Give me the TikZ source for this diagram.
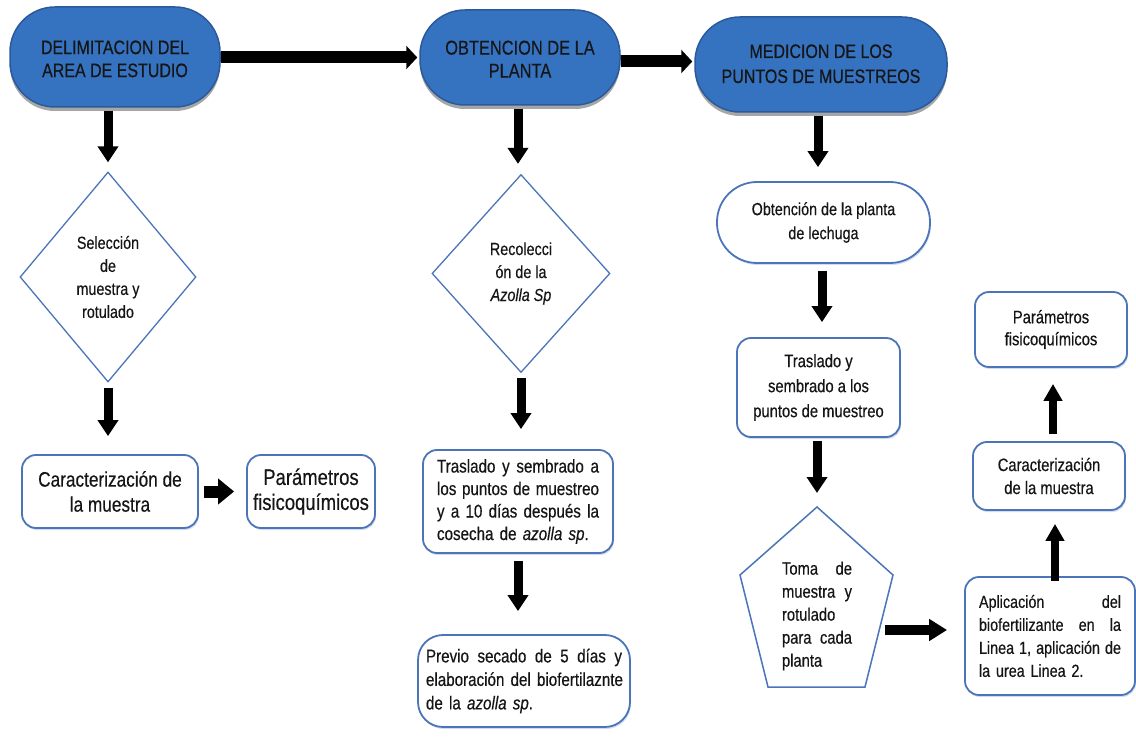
\documentclass[tikz,border=0pt]{standalone}
\usepackage{fontspec}
\setmainfont[FakeStretch=0.82,FakeBold=0.4]{Liberation Sans}
\usetikzlibrary{arrows.meta,shapes.geometric,shadows}
\definecolor{bluefill}{HTML}{3572C0}
\definecolor{blueedge}{HTML}{2A5A9C}
\definecolor{boxedge}{HTML}{4C74B9}
\definecolor{txt}{HTML}{151515}
\newcommand{\fsz}[2]{\fontsize{#1pt}{#2pt}\selectfont}
\newcommand{\jl}[2]{\leavevmode\hbox to #1pt{#2}}
\newcommand{\lowtxt}[2]{\raisebox{-#1pt}[\height][\depth]{\begin{tabular}{@{}c@{}}#2\end{tabular}}}
\begin{document}
\begin{tikzpicture}[x=1pt,y=-1pt,
  pill/.style={draw=blueedge, line width=1.5pt, fill=bluefill, rounded corners=45pt,
    align=center, text=txt, inner sep=0pt, font=\fsz{19.5}{23},
    drop shadow={shadow xshift=0pt, shadow yshift=-4pt, opacity=0.35, fill=black}},
  wbox/.style={draw=boxedge, line width=1.8pt, fill=white, rounded corners=14pt,
    align=center, text=txt, inner sep=0pt,
    drop shadow={shadow xshift=1pt, shadow yshift=-2pt, opacity=0.25, fill=boxedge}},
  dia/.style={diamond, draw=boxedge, line width=1.3pt, fill=white, inner sep=0pt,
    align=center, text=txt, font=\fsz{17.5}{23}},
  varr/.style={line width=9pt, -{Triangle[length=16pt,width=20pt]}},
  varrs/.style={line width=8pt, -{Triangle[length=17pt,width=18pt]}},
  harr/.style={line width=12pt, -{Triangle[length=11pt,width=23pt]}},
  harrm/.style={line width=12pt, -{Triangle[length=16pt,width=25pt]}},
  harrs/.style={line width=10pt, -{Triangle[length=18pt,width=21pt]}}]
\useasboundingbox (0,0) rectangle (1136,738);

% top row
\node[pill, minimum width=210pt, minimum height=100pt] (n1) at (115,57) {\lowtxt{4}{DELIMITACION DEL\\AREA DE ESTUDIO}};
\node[pill, minimum width=200pt, minimum height=95pt, font=\fsz{20}{23}] (n2) at (520,57.5) {\lowtxt{4}{OBTENCION DE LA\\PLANTA}};
\node[pill, minimum width=252pt, minimum height=95pt, font=\fsz{19.5}{25}] (n3) at (821,64.5) {\lowtxt{1}{MEDICION DE LOS\\PUNTOS DE MUESTREOS}};

% column 1
\node[dia, minimum width=176pt, minimum height=210pt] (d1) at (108,277) {Selección\\de\\muestra y\\rotulado};
\node[wbox, minimum width=176pt, minimum height=73pt, font=\fsz{21}{25}] (c1) at (110,491.5) {Caracterización de\\la muestra};
\node[wbox, minimum width=128pt, minimum height=73pt, font=\fsz{22.5}{25}] (p1) at (311,491.5) {Parámetros\\fisicoquímicos};

% column 2
\node[dia, minimum width=178pt, minimum height=198pt] (d2) at (521,273.5) {Recolecci\\ón de la\\\textit{Azolla Sp}};
\node[wbox, minimum width=190pt, minimum height=103pt, text width=162pt, align=left, font=\fsz{18.5}{22.5}] (t2) at (518,501.5)
  {\jl{162}{Traslado\hfill y\hfill sembrado\hfill a}\\\jl{162}{los\hfill puntos\hfill de\hfill muestreo}\\\jl{162}{y\hfill a\hfill 10\hfill días\hfill después\hfill la}\\cosecha de \textit{azolla sp}.};
\node[wbox, rounded corners=25pt, minimum width=212pt, minimum height=92pt, text width=196pt, align=left, font=\fsz{18.5}{23.5}] (v2) at (524,681)
  {\jl{196}{Previo\hfill secado\hfill de\hfill 5\hfill días\hfill y}\\\mbox{elaboración del biofertilaznte}\\de la \textit{azolla sp}.};

% column 3
\node[wbox, rounded corners=40pt, minimum width=213pt, minimum height=81pt, font=\fsz{17.5}{24}] (o3) at (823.5,222.5) {Obtención de la planta\\de lechuga};
\node[wbox, minimum width=163pt, minimum height=99pt, font=\fsz{18}{25}] (t3) at (818.5,387.5) {Traslado y\\sembrado a los\\puntos de muestreo};

\coordinate (pt) at (817,507);
\coordinate (pur) at (893,575);
\coordinate (pbr) at (865,687);
\coordinate (pbl) at (768,687);
\coordinate (pul) at (740,575);
\draw[draw=boxedge, line width=1.5pt, fill=white] (pt) -- (pur) -- (pbr) -- (pbl) -- (pul) -- cycle;
\node[text width=70pt, align=left, inner sep=0pt, text=txt, font=\fsz{18}{23}] (pent) at (817,616)
  {\jl{70}{Toma\hfill de}\\\jl{70}{muestra\hfill y}\\rotulado\\\jl{70}{para\hfill cada}\\planta};
\coordinate (pr) at (885,630);

\node[wbox, minimum width=170pt, minimum height=118pt, text width=142pt, align=left, font=\fsz{17.5}{23}] (a1) at (1050,636)
  {\jl{142}{Aplicación\hfill del}\\\jl{142}{biofertilizante\hfill en\hfill la}\\\jl{142}{Linea\hfill 1,\hfill aplicación\hfill de}\\la urea Linea 2.};
\node[wbox, minimum width=152pt, minimum height=68pt, font=\fsz{18}{23}] (c3) at (1049,476) {Caracterización\\de la muestra};
\node[wbox, minimum width=152pt, minimum height=75pt, font=\fsz{18}{22}] (p3) at (1051,329.5) {Parámetros\\fisicoquímicos};

% connectors
\draw[harr, shorten >=2pt] (n1.east |- n2.west) -- (n2.west);
\draw[harr, shorten >=2pt] ([yshift=-4pt]n2.east) -- ([yshift=-4pt]n2.east -| n3.west);

\draw[varr, shorten <=3pt, shorten >=9pt] (n1.south -| d1.north) -- (d1.north);
\draw[varr, shorten <=5pt, shorten >=18pt] (d1.south) -- (d1.south |- c1.north);
\draw[harrm, shorten <=5pt, shorten >=12pt] (c1.east) -- (p1.west);

\draw[varr, shorten <=3pt, shorten >=10pt] ([xshift=-2pt]n2.south) -- ([xshift=-2pt]n2.south |- d2.north);
\draw[varr, shorten <=5pt, shorten >=20pt] (d2.south) -- (d2.south |- t2.north);
\draw[varr, shorten <=7pt, shorten >=23pt] (t2.south) -- (t2.south |- v2.north);

\draw[varr, shorten <=3pt, shorten >=14pt] ([xshift=-3pt]n3.south) -- ([xshift=-3pt]n3.south |- o3.north);
\draw[varr, shorten <=7pt, shorten >=15pt] ([xshift=-1.5pt]o3.south) -- ([xshift=-1.5pt]o3.south |- t3.north);
\draw[varr, shorten <=3pt, shorten >=14pt] (t3.south -| pt) -- (pt);
\draw[harrs, shorten >=17pt] (pr) -- (pr -| a1.west);

\draw[varrs, shorten <=-5pt, shorten >=13pt] ([xshift=5pt]a1.north) -- ([xshift=5pt]a1.north |- c3.south);
\draw[varrs, shorten <=7pt, shorten >=16pt] ([xshift=4pt]c3.north) -- ([xshift=4pt]c3.north |- p3.south);
\end{tikzpicture}
\end{document}
